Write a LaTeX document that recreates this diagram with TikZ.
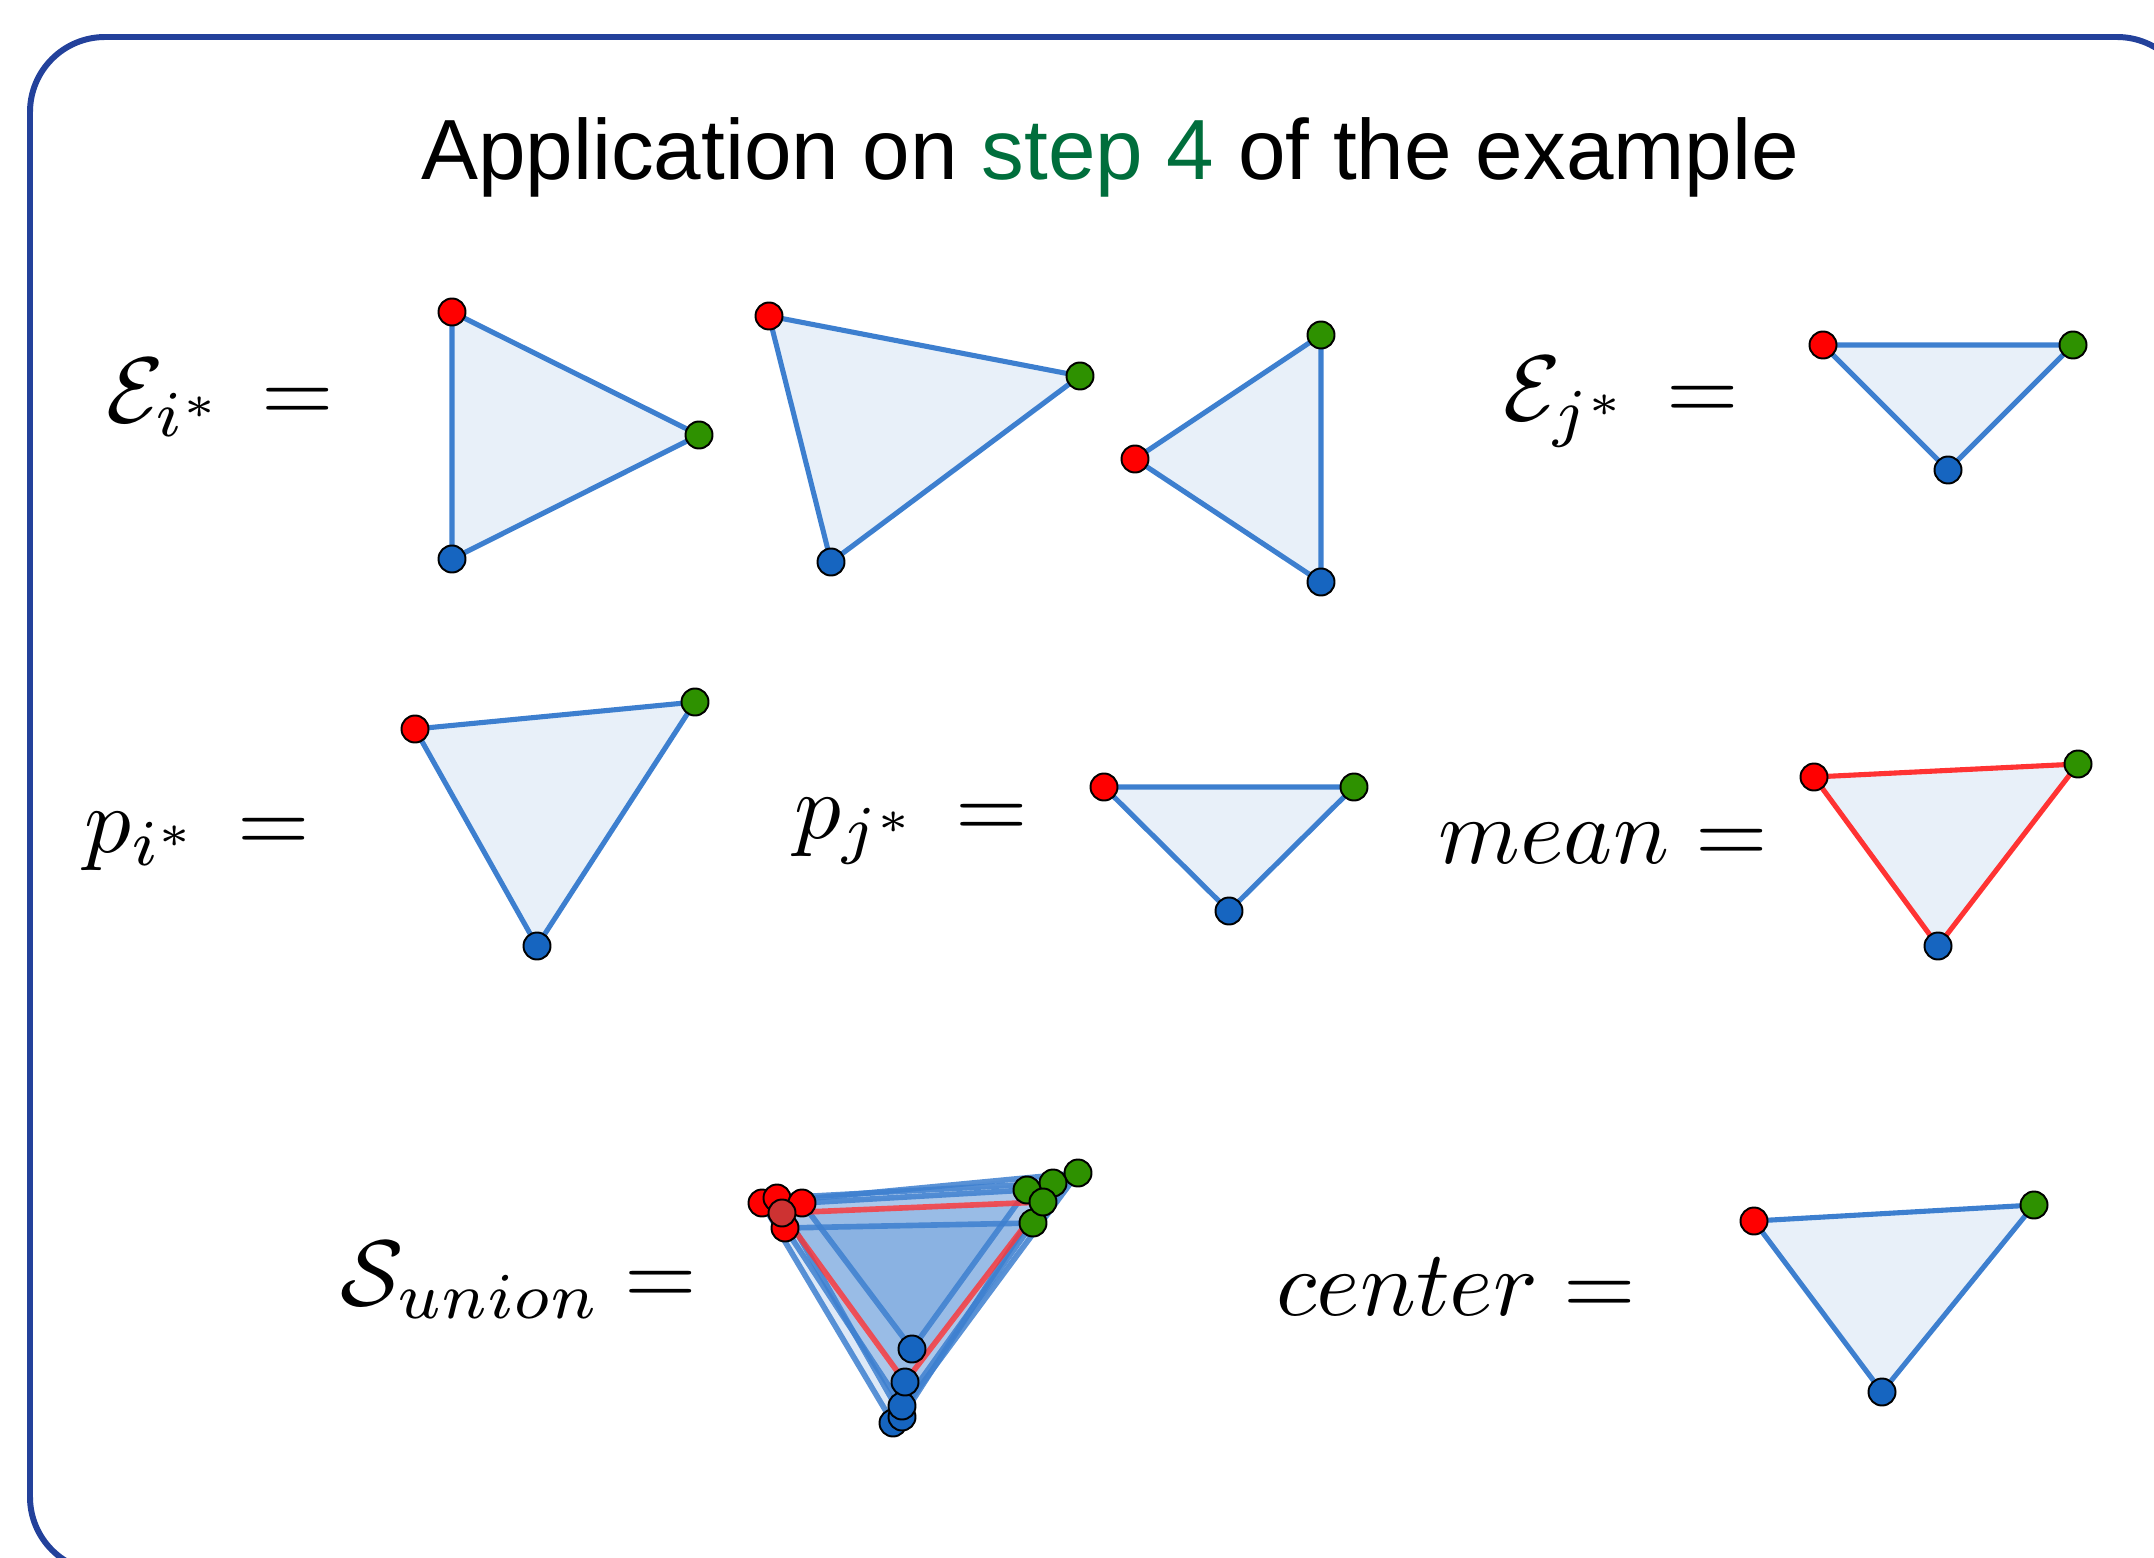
\documentclass[tikz,border=0pt]{standalone}
\usepackage[no-math]{fontspec}
\newfontfamily\titlefont{Liberation Sans}
\DeclareFontShape{OML}{cmm}{m}{it}{<-20>cmmi7 <20->cmmi10}{}
\DeclareFontShape{OMS}{cmsy}{m}{n}{<-15>cmsy5 <15-20>cmsy7 <20->cmsy10}{}
\DeclareFontShape{OT1}{cmr}{m}{n}{<-15>cmr5 <15-20>cmr7 <20->cmr10}{}
\DeclareMathSizes{26.5}{26.5}{18.55}{13.25}
\definecolor{framecol}{RGB}{35,65,155}
\definecolor{stepgreen}{RGB}{0,110,60}
\definecolor{edgeblue}{RGB}{61,127,207}
\definecolor{fillblue}{RGB}{232,240,249}
\definecolor{edgered}{RGB}{255,51,51}
\definecolor{vred}{RGB}{255,0,0}
\definecolor{vgreen}{RGB}{46,145,0}
\definecolor{vblue}{RGB}{22,101,192}
\definecolor{vdred}{RGB}{205,50,50}
\tikzset{
  vtx/.style={circle,draw=black,line width=0.55pt,minimum size=0.27cm,inner sep=0pt},
  rv/.style={vtx,fill=vred},
  gv/.style={vtx,fill=vgreen},
  bv/.style={vtx,fill=vblue},
  dv/.style={vtx,fill=vdred},
  tri/.style={fill=fillblue,draw=edgeblue,line width=1.45pt,line join=round},
  meantri/.style={fill=fillblue,draw=edgered,line width=1.45pt,line join=round},
  utri/.style={fill=edgeblue,fill opacity=0.17,draw=edgeblue,draw opacity=0.85,line width=1.6pt,line join=round},
  umean/.style={fill=edgeblue,fill opacity=0.17,draw=edgered,draw opacity=0.8,line width=1.6pt,line join=round},
  lbl/.style={anchor=base west,inner sep=0pt,font=\fontsize{26.5}{32}\selectfont},
}
\newcommand{\mytri}[5]{%
  \coordinate (#1r) at (#2); \coordinate (#1g) at (#3); \coordinate (#1b) at (#4);
  \filldraw[#5] (#1r) -- (#1g) -- (#1b) -- cycle;
  \node[rv] (#1R) at (#1r) {};
  \node[gv] (#1G) at (#1g) {};
  \node[bv] (#1B) at (#1b) {};}
\begin{document}
\begin{tikzpicture}[x=0.01cm,y=-0.01cm]
\useasboundingbox (0,0) rectangle (2154,1558);
\clip (0,0) rectangle (2154,1558);
% frame
\draw[framecol,line width=1.7pt,rounded corners=0.75cm] (30,37) rectangle (2192,1572);
% title
\node[anchor=base,inner sep=0pt,font=\titlefont\fontsize{24.3}{29}\selectfont] (title) at (1110,180)
  {Application on \textcolor{stepgreen}{step 4} of the example};
% labels
\node[lbl] (lEi) at (106,423) {$\mathcal{E}_{i^*}\,=$};
\node[lbl] (lEj) at (1503,421) {$\mathcal{E}_{j^*}\,=$};
\node[lbl] (lpi) at (84,852) {$p_{i^*}\,=$};
\node[lbl] (lpj) at (794,838) {$p_{j^*}\,=$};
\node[lbl] (lmean) at (1438,863) {$mean=$};
\node[lbl] (lS) at (340,1305) {$\mathcal{S}_{union}=$};
\node[lbl] (lc) at (1276,1315) {$center=$};
% row 1
\mytri{a}{452,312}{699,435}{452,559}{tri}
\mytri{b}{769,316}{1080,376}{831,562}{tri}
\mytri{c}{1135,459}{1321,335}{1321,582}{tri}
\mytri{d}{1823,345}{2073,345}{1948,470}{tri}
% row 2
\mytri{e}{415,729}{695,702}{537,946}{tri}
\mytri{f}{1104,787}{1354,787}{1229,911}{tri}
\mytri{m}{1814,777}{2078,764}{1938,946}{meantri}
% row 3
\mytri{z}{1754,1221}{2034,1205}{1882,1392}{tri}
% union
\coordinate (u1r) at (762,1203); \coordinate (u1g) at (1078,1173); \coordinate (u1b) at (893,1423);
\coordinate (u2r) at (777,1198); \coordinate (u2g) at (1053,1183); \coordinate (u2b) at (902,1417);
\coordinate (u3r) at (802,1203); \coordinate (u3g) at (1027,1190); \coordinate (u3b) at (912,1349);
\coordinate (u4r) at (785,1228); \coordinate (u4g) at (1033,1223); \coordinate (u4b) at (902,1406);
\coordinate (u5r) at (782,1213); \coordinate (u5g) at (1043,1202); \coordinate (u5b) at (905,1382);
\filldraw[utri] (u1r) -- (u1g) -- (u1b) -- cycle;
\filldraw[utri] (u2r) -- (u2g) -- (u2b) -- cycle;
\filldraw[utri] (u3r) -- (u3g) -- (u3b) -- cycle;
\filldraw[utri] (u4r) -- (u4g) -- (u4b) -- cycle;
\filldraw[umean] (u5r) -- (u5g) -- (u5b) -- cycle;
\node[bv] (U1B) at (u1b) {};
\node[bv] (U2B) at (u2b) {};
\node[bv] (U4B) at (u4b) {};
\node[bv] (U5B) at (u5b) {};
\node[bv] (U3B) at (u3b) {};
\node[rv] (U1R) at (u1r) {};
\node[rv] (U4R) at (u4r) {};
\node[rv] (U2R) at (u2r) {};
\node[rv] (U3R) at (u3r) {};
\node[dv] (U5R) at (u5r) {};
\node[gv] (U1G) at (u1g) {};
\node[gv] (U2G) at (u2g) {};
\node[gv] (U3G) at (u3g) {};
\node[gv] (U4G) at (u4g) {};
\node[gv] (U5G) at (u5g) {};
\end{tikzpicture}
\end{document}
